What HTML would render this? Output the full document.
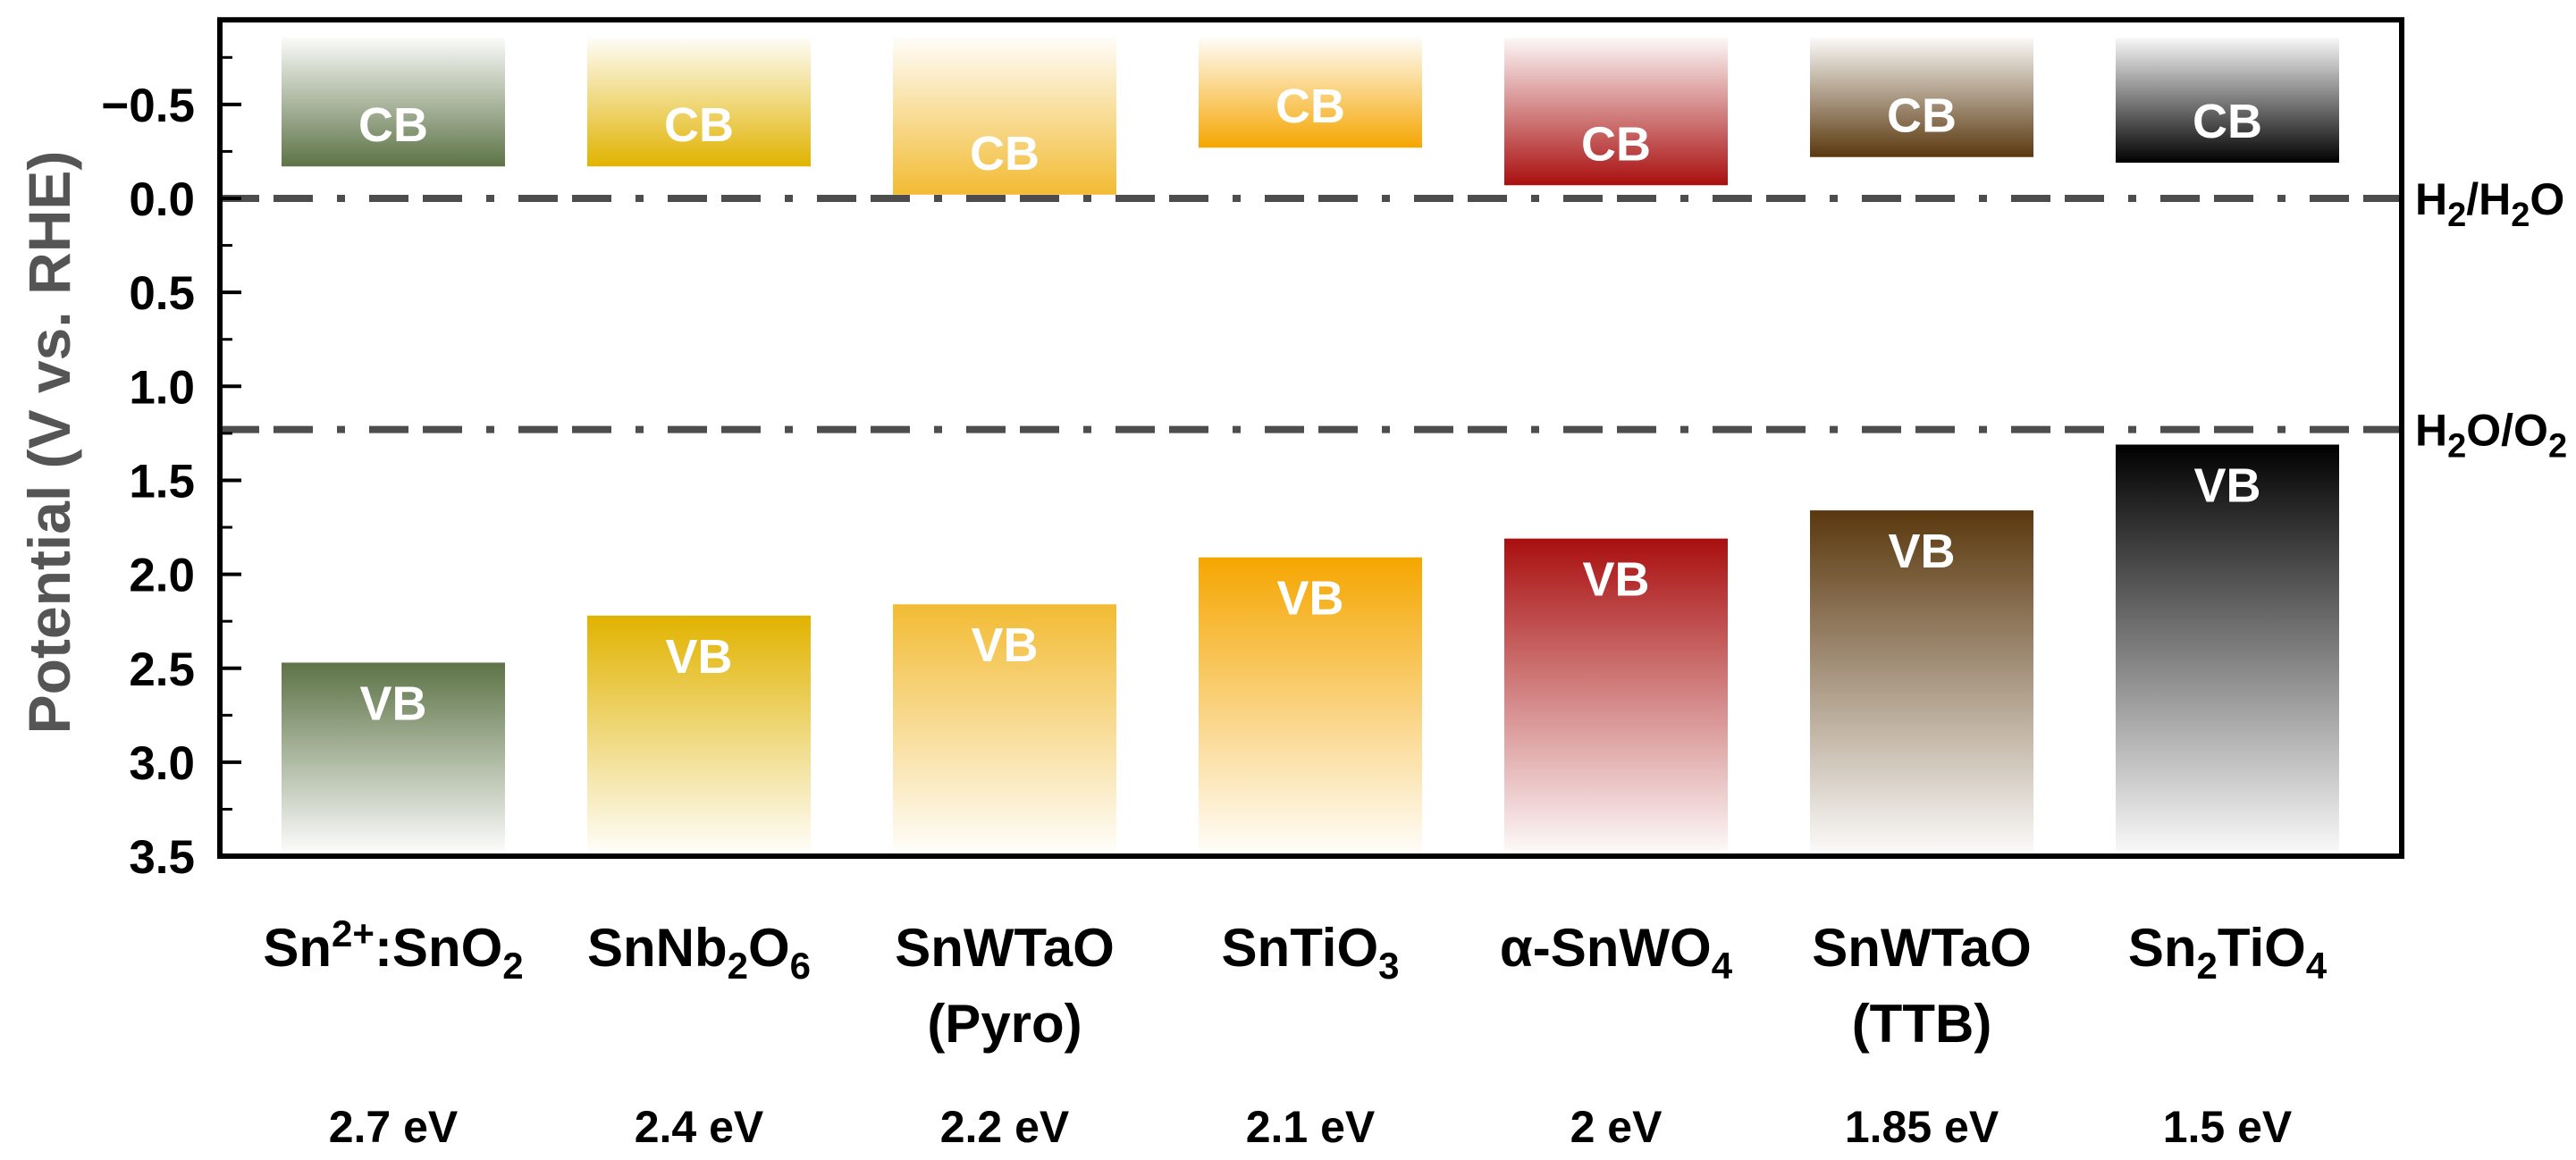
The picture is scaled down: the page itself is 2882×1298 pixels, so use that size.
<!DOCTYPE html>
<html><head><meta charset="utf-8"><style>
html,body{margin:0;padding:0;background:#fff}
svg{display:block;font-family:"Liberation Sans",Arial,sans-serif;font-weight:bold}
</style></head><body>
<svg id="chart" width="2882" height="1298" viewBox="0 0 2882 1298" xmlns="http://www.w3.org/2000/svg">
<defs id="defs"></defs>
<g id="bars"></g>
<g id="refs"></g>
<g id="axes"></g>
<g id="labels"></g>
</svg>
<script>
const materials = ["Sn2+:SnO2","SnNb2O6","SnWTaO (Pyro)","SnTiO3","α-SnWO4","SnWTaO (TTB)","Sn2TiO4"];
const cbValues = [-0.17,-0.17,-0.02,-0.27,-0.07,-0.22,-0.19];
const vbValues = [2.47,2.22,2.16,1.91,1.81,1.66,1.31];
const gapLabels = ["2.7 eV","2.4 eV","2.2 eV","2.1 eV","2 eV","1.85 eV","1.5 eV"];
const colors = ["#5d7346","#e1b300","#f2bb33","#f5a600","#a90f0f","#5a380e","#000000"];
const yTicks = [-0.5,0,0.5,1.0,1.5,2.0,2.5,3.0,3.5];
const yTickLabels = ["\u22120.5","0.0","0.5","1.0","1.5","2.0","2.5","3.0","3.5"];
const refValues = [0, 1.23];
const barTop = -0.855, barBottom = 3.47;

const NS="http://www.w3.org/2000/svg";
const L=246,R=2687;
const yMin=-0.95,yMax=3.5;
const Z=222, PV=210.3;
function yPos(v){return Z+v*PV;}
const T=yPos(yMin),B=yPos(yMax);
function xPos(i){return 440+i*342;}
const BW=250;
function mk(tag,attrs,parent){const e=document.createElementNS(NS,tag);for(const k in attrs)e.setAttribute(k,attrs[k]);parent.appendChild(e);return e;}
const defs=document.getElementById('defs'),bars=document.getElementById('bars'),refs=document.getElementById('refs'),axes=document.getElementById('axes'),labels=document.getElementById('labels');

materials.forEach((m,i)=>{
  const gc=mk('linearGradient',{id:'gc'+i,x1:0,y1:1,x2:0,y2:0},defs);
  mk('stop',{offset:0,'stop-color':colors[i]},gc);
  mk('stop',{offset:1,'stop-color':colors[i],'stop-opacity':0.03},gc);
  const gv=mk('linearGradient',{id:'gv'+i,x1:0,y1:0,x2:0,y2:1},defs);
  mk('stop',{offset:0,'stop-color':colors[i]},gv);
  mk('stop',{offset:1,'stop-color':colors[i],'stop-opacity':0.03},gv);
  const x=xPos(i)-BW/2;
  const cb=mk('rect',{x:x,y:yPos(barTop),width:BW,height:yPos(cbValues[i])-yPos(barTop),fill:'url(#gc'+i+')'},bars);
  
  
  const vb=mk('rect',{x:x,y:yPos(vbValues[i]),width:BW,height:yPos(barBottom)-yPos(vbValues[i]),fill:'url(#gv'+i+')'},bars);
  
  
  const tc=mk('text',{x:xPos(i),y:yPos(cbValues[i])-48+20,'text-anchor':'middle','font-size':54,fill:'#fff'},bars);
  tc.textContent='CB';
  
  
  const tv=mk('text',{x:xPos(i),y:yPos(vbValues[i])+44+20,'text-anchor':'middle','font-size':54,fill:'#fff'},bars);
  tv.textContent='VB';
  
  
  const g=mk('text',{x:xPos(i),y:1278,'text-anchor':'middle','font-size':50,fill:'#000'},labels);
  g.textContent=gapLabels[i];
  
  
});

const nameMarkup=[
 ['Sn<tspan dy="-22" font-size="42">2+</tspan><tspan dy="22">:SnO</tspan><tspan dy="14" font-size="42">2</tspan>'],
 ['SnNb<tspan dy="14" font-size="42">2</tspan><tspan dy="-14">O</tspan><tspan dy="14" font-size="42">6</tspan>'],
 ['SnWTaO','(Pyro)'],
 ['SnTiO<tspan dy="14" font-size="42">3</tspan>'],
 ['α-SnWO<tspan dy="14" font-size="42">4</tspan>'],
 ['SnWTaO','(TTB)'],
 ['Sn<tspan dy="14" font-size="42">2</tspan><tspan dy="-14">TiO</tspan><tspan dy="14" font-size="42">4</tspan>']
];
nameMarkup.forEach((lines,i)=>{
  lines.forEach((ln,j)=>{
    const t=mk('text',{x:xPos(i),y:1081+j*85,'text-anchor':'middle','font-size':60,fill:'#000'},labels);
    t.innerHTML=ln;
    
    
  });
});

const refNames=['H<tspan dy="13" font-size="38">2</tspan><tspan dy="-13">/H</tspan><tspan dy="13" font-size="38">2</tspan><tspan dy="-13">O</tspan>',
 'H<tspan dy="13" font-size="38">2</tspan><tspan dy="-13">O/O</tspan><tspan dy="13" font-size="38">2</tspan>'];
refValues.forEach((v,i)=>{
  const ln=mk('line',{x1:L,x2:R,y1:yPos(v),y2:yPos(v),stroke:'#4d4d4d','stroke-width':8,'stroke-dasharray':'44 16 44 27 9 27'},refs);
  
  
  const t=mk('text',{x:2702,y:yPos(v)+18,'font-size':50,fill:'#000'},labels);
  t.innerHTML=refNames[i];
  
  
});

const fr=mk('rect',{x:L,y:T,width:R-L,height:B-T,fill:'none',stroke:'#000','stroke-width':6},axes);


yTicks.forEach((v,i)=>{
  const tk=mk('line',{x1:L,x2:L+24,y1:yPos(v),y2:yPos(v),stroke:'#000','stroke-width':4},axes);
  
  
  if(i<yTicks.length-1){
    const mv=v+0.25;
    const mt=mk('line',{x1:L,x2:L+14,y1:yPos(mv),y2:yPos(mv),stroke:'#000','stroke-width':3},axes);
    
    
  }
  if(i===0){const mt=mk('line',{x1:L,x2:L+14,y1:yPos(v-0.25),y2:yPos(v-0.25),stroke:'#000','stroke-width':3},axes);
    
    }
  const tl=mk('text',{x:218,y:yPos(v)+19,'text-anchor':'end','font-size':53,fill:'#000'},axes);
  tl.textContent=yTickLabels[i];
  
  
});
const yt=mk('text',{x:0,y:0,'text-anchor':'middle','font-size':66,fill:'#555',transform:'translate(78,495) rotate(-90)'},axes);
yt.textContent='Potential (V vs. RHE)';


</script>
</body></html>
